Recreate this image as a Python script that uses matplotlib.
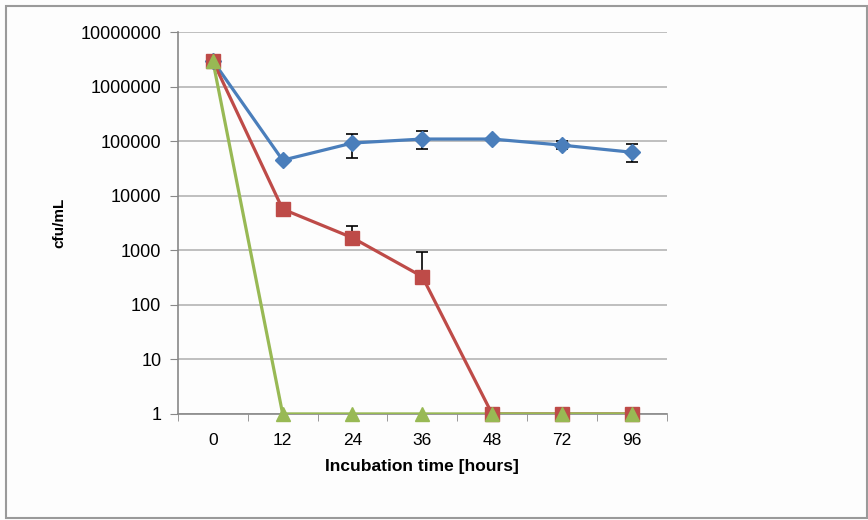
import matplotlib.pyplot as plt
import matplotlib.patches as mpatches
import numpy as np

plt.rcParams['font.family'] = ['Liberation Sans', 'DejaVu Sans']

# incubation time categories (hours)
hours = ['0', '12', '24', '36', '48', '72', '96']

# cfu/mL for the three series
blue_vals = [3000000, 45000, 93000, 110000, 110000, 85000, 63000]
blue_err_lo = [0, 0, 44000, 38000, 0, 13000, 21000]
blue_err_hi = [0, 0, 42000, 45000, 0, 15000, 26000]

red_vals = [3000000, 5700, 1700, 330, 1, 1, 1]
red_err_hi = [0, 1700, 1100, 600, 0, 0, 0]

green_vals = [3000000, 1, 1, 1, 1, 1, 1]

c_blue = '#4a7ebb'
c_red = '#be4b48'
c_green = '#98b954'

fig = plt.figure(figsize=(8.68, 5.2), dpi=100, facecolor='#fdfdfd')
fig.patches.append(mpatches.Rectangle((0.007, 0.004), 0.992, 0.985, transform=fig.transFigure,
                                      fill=False, edgecolor='#9a9a9a', linewidth=1.5))
ax = fig.add_axes([0.205, 0.204, 0.563, 0.734])
ax.set_facecolor('#fdfdfd')

x = np.arange(len(hours))

# lines (clipped at the axis like the original)
ax.plot(x, blue_vals, color=c_blue, lw=2.3, zorder=3)
ax.plot(x, red_vals, color=c_red, lw=2.3, zorder=4)
ax.plot(x, green_vals, color=c_green, lw=2.3, zorder=5)

# error bars
ax.errorbar(x, blue_vals, yerr=[blue_err_lo, blue_err_hi], fmt='none', ecolor='black',
            elinewidth=1.2, capsize=4, capthick=1.2, zorder=6)
ax.errorbar(x, red_vals, yerr=[np.zeros(len(red_vals)), red_err_hi], fmt='none', ecolor='black',
            elinewidth=1.2, capsize=4, capthick=1.2, zorder=6)

# markers
ax.plot(x, blue_vals, 'D', color=c_blue, ms=8, ls='none', clip_on=False, zorder=7)
ax.plot(x, red_vals, 's', color=c_red, ms=9.5, ls='none', clip_on=False, zorder=8)
ax.plot(x, green_vals, '^', color=c_green, ms=9.5, ls='none', clip_on=False, zorder=9)

ax.set_yscale('log')
ax.set_ylim(1, 1e7)
ax.set_xlim(-0.5, len(hours) - 0.5)

yt = [1, 10, 100, 1000, 10000, 100000, 1000000, 10000000]
ax.set_yticks(yt)
ax.set_yticklabels([str(v) for v in yt])
ax.minorticks_off()
ax.yaxis.grid(True, color='#b4b4b4', lw=1.2)
ax.set_axisbelow(True)

ax.set_xticks(x)
ax.set_xticklabels(hours)
ax.set_xticks(np.arange(-0.5, len(hours)), minor=True)
ax.tick_params(axis='x', which='major', length=0, pad=14, labelsize=12.5)
ax.tick_params(axis='x', which='minor', length=5, color='#888888', direction='out')
ax.tick_params(axis='y', which='major', length=6, color='#888888', labelsize=13, pad=6)

for s in ['top', 'right']:
    ax.spines[s].set_visible(False)
for s in ['left', 'bottom']:
    ax.spines[s].set_color('#888888')
    ax.spines[s].set_linewidth(1.2)

ax.set_xlabel('Incubation time [hours]', fontsize=12.5, fontweight='bold', labelpad=8)
ax.set_ylabel('cfu/mL', fontsize=11, fontweight='bold', labelpad=10)

plt.savefig('out.png', dpi=100, facecolor=fig.get_facecolor())
